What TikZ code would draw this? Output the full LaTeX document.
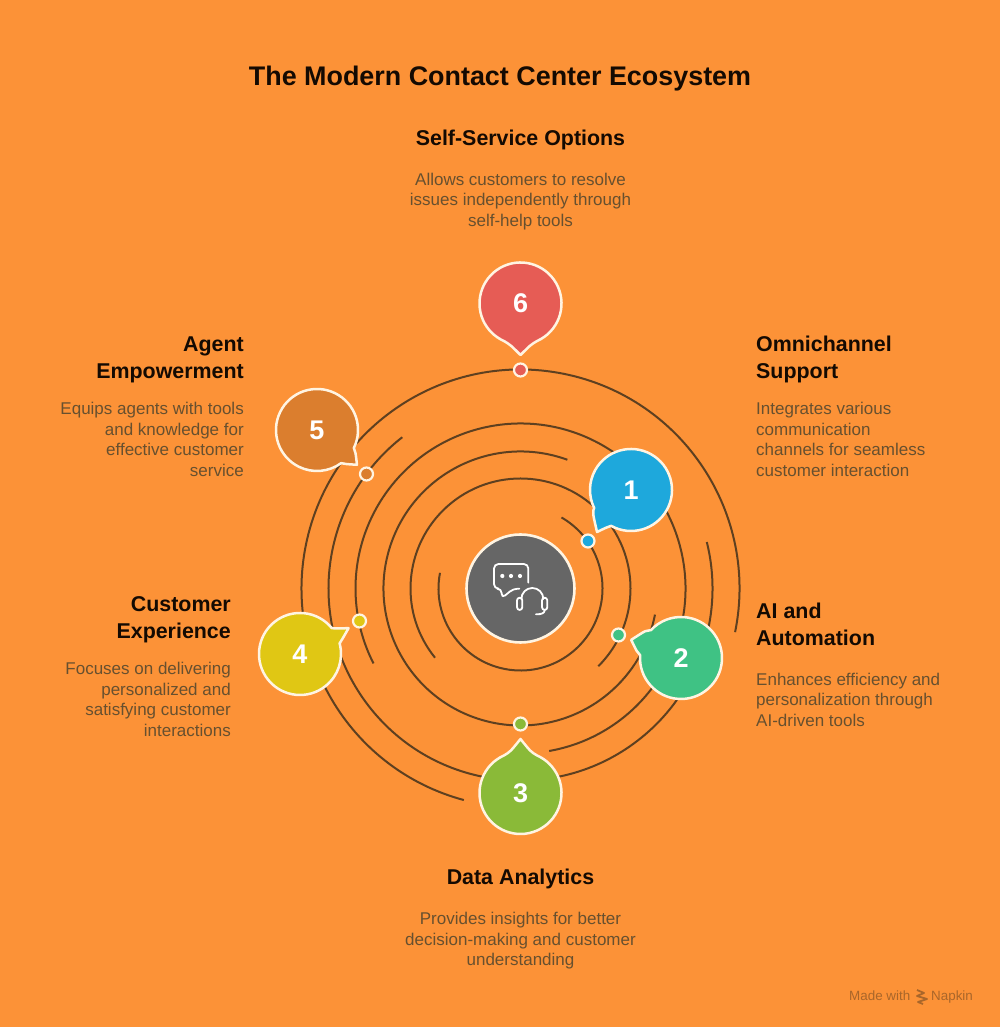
\documentclass[tikz,border=0pt]{standalone}
\usepackage{fontspec}
\setmainfont{Liberation Sans}
\definecolor{bgc}{HTML}{FC9237}
\definecolor{ringc}{HTML}{5E4020}
\definecolor{edgec}{HTML}{FFF4E2}
\definecolor{headc}{HTML}{140A02}
\definecolor{bodyc}{HTML}{67502F}
\definecolor{markc}{HTML}{A9662A}
\definecolor{cone}{HTML}{1EA8DC}
\definecolor{ctwo}{HTML}{3FC284}
\definecolor{cthree}{HTML}{8ABA38}
\definecolor{cfour}{HTML}{E0C714}
\definecolor{cfive}{HTML}{DB7E2E}
\definecolor{csix}{HTML}{E65C55}
\definecolor{ccent}{HTML}{666666}
\tikzset{
  ringline/.style={draw=ringc,line width=2pt},
  bubbleshape/.style={draw=edgec,line width=2.5pt,line join=round},
  dotnode/.style={circle,draw=edgec,line width=2.2pt,minimum size=13pt,inner sep=0pt},
  numlabel/.style={text=white,font=\fontsize{27}{27}\selectfont\bfseries,inner sep=0pt},
  headtext/.style={inner sep=0pt,text=headc,font=\fontsize{21.4}{27}\selectfont\bfseries},
  bodytext/.style={inner sep=0pt,text=bodyc,font=\fontsize{17}{20.5}\selectfont},
  iconline/.style={draw=white,line width=1.8pt,line cap=round,line join=round},
}
\newcommand\ringarc[3]{\draw[ringline] ([shift={(#2:#1pt)}]C) arc[start angle=#2,end angle=#3,radius=#1pt];}
\newcommand\ctlA{4}
\newcommand\ctlR{44.5}
% name, x, y(up), arc start, arc end, tip angle, tip dist, colour, number
\newcommand\bubblemark[9]{%
  \coordinate (#1c) at (#2,#3);
  \fill[#8] [bubbleshape]
    ([shift={(#4:41pt)}]#1c) arc[start angle=#4,end angle=#5,radius=41pt]
    .. controls ([shift={({#5+\ctlA}:\ctlR pt)}]#1c) .. ([shift={(#6:#7pt)}]#1c)
    .. controls ([shift={({#4-\ctlA}:\ctlR pt)}]#1c) .. cycle;
  \node[numlabel] (#1) at (#1c) {#9};
}
\newcommand\txt[6]{\node[#5,anchor=#2,align=#6] (#1) at (#3,{1027-#4+20}) }
\newcommand\lead{\rule{0pt}{20pt}}
\begin{document}
\begin{tikzpicture}[x=1pt,y=1pt]
\useasboundingbox (0,0) rectangle (1000,1027);
\fill[bgc] (0,0) rectangle (1000,1027);
\coordinate (C) at (520.5,438.5);
\ringarc{82}{-191}{60}
\ringarc{110}{-45}{219}
\ringarc{137}{70}{349}
\ringarc{165}{-80}{207}
\ringarc{192}{128}{374}
\ringarc{219}{-11.5}{255}
\node[circle,fill=ccent,draw=edgec,line width=2.6pt,minimum size=108pt,inner sep=0pt] (hub) at (C) {};
\begin{scope}[shift={(460,497)},x=0.3333pt,y=-0.3333pt]
  \draw[iconline,rounded corners=4.5pt] (178,176)--(160,176)--(125,205)--(125,176)--(102,176)--(102,102)--(205,102)--(205,158);
  \fill[white] (127,138) circle[radius=2.1pt] (153,138) circle[radius=2.1pt] (180,138) circle[radius=2.1pt];
  \draw[iconline] (184,207) arc[start angle=180,end angle=0,radius=11pt];
  \draw[iconline,rounded corners=2.8pt] (171,203) rectangle (187,240);
  \draw[iconline,rounded corners=2.8pt] (246,203) rectangle (262,240);
  \draw[iconline] (254,240) .. controls (254,250) and (245,253) .. (228,253);
\end{scope}
\bubblemark{one}{631}{537}{241}{566}{231}{54}{cone}{1}
\bubblemark{two}{681}{369}{176}{497}{160}{53}{ctwo}{2}
\bubblemark{four}{300}{373}{39}{375}{28}{55}{cfour}{4}
\bubblemark{five}{317}{597}{-26}{306}{-41}{53}{cfive}{5}
\renewcommand\ctlA{10}
\renewcommand\ctlR{42.5}
\bubblemark{three}{520.5}{234}{114}{426}{90}{54}{cthree}{3}
\bubblemark{six}{520.5}{723.5}{294}{606}{270}{51.5}{csix}{6}
\node[dotnode,fill=cone] (d1) at (588,486) {};
\node[dotnode,fill=ctwo] (d2) at (618.5,392) {};
\node[dotnode,fill=cthree] (d3) at (520.5,303) {};
\node[dotnode,fill=cfour] (d4) at (359.5,406) {};
\node[dotnode,fill=cfive] (d5) at (366.5,553) {};
\node[dotnode,fill=csix] (d6) at (520.5,657) {};
% texts
\node[inner sep=0pt,anchor=base,text=headc,font=\fontsize{26.9}{27}\selectfont\bfseries] (title) at (500,941) {The Modern Contact Center Ecosystem};
\txt{h6}{north}{520.5}{145}{headtext}{center}{\lead Self-Service Options};
\txt{b6}{north}{520.5}{185}{bodytext}{center}{\lead Allows customers to resolve\\issues independently through\\self-help tools};
\txt{h1}{north west}{756}{351}{headtext}{left}{\lead Omnichannel\\Support};
\txt{b1}{north west}{756}{414.5}{bodytext}{left}{\lead Integrates various\\communication\\channels for seamless\\customer interaction};
\txt{h2}{north west}{756}{618}{headtext}{left}{\lead AI and\\Automation};
\txt{b2}{north west}{756}{685}{bodytext}{left}{\lead Enhances efficiency and\\personalization through\\AI-driven tools};
\txt{h3}{north}{520.5}{884}{headtext}{center}{\lead Data Analytics};
\txt{b3}{north}{520.5}{924.5}{bodytext}{center}{\lead Provides insights for better\\decision-making and customer\\understanding};
\txt{h4}{north east}{231}{611}{headtext}{right}{\lead Customer\\Experience};
\txt{b4}{north east}{231}{674.5}{bodytext}{right}{\lead Focuses on delivering\\personalized and\\satisfying customer\\interactions};
\txt{h5}{north east}{244}{351}{headtext}{right}{\lead Agent\\Empowerment};
\txt{b5}{north east}{244}{414.5}{bodytext}{right}{\lead Equips agents with tools\\and knowledge for\\effective customer\\service};
% watermark
\node[inner sep=0pt,anchor=base west,text=markc,font=\fontsize{13.4}{13.4}\selectfont] (made) at (849,27) {Made with};
\node[inner sep=0pt,anchor=base west,text=markc,font=\fontsize{13.4}{13.4}\selectfont] (napkin) at (931,27) {Napkin};
\draw[markc,line width=1.8pt,line join=round] (917,37)--(924,34)--(917,31)--(927,28)--(918,25)--(923,23);
\end{tikzpicture}
\end{document}
